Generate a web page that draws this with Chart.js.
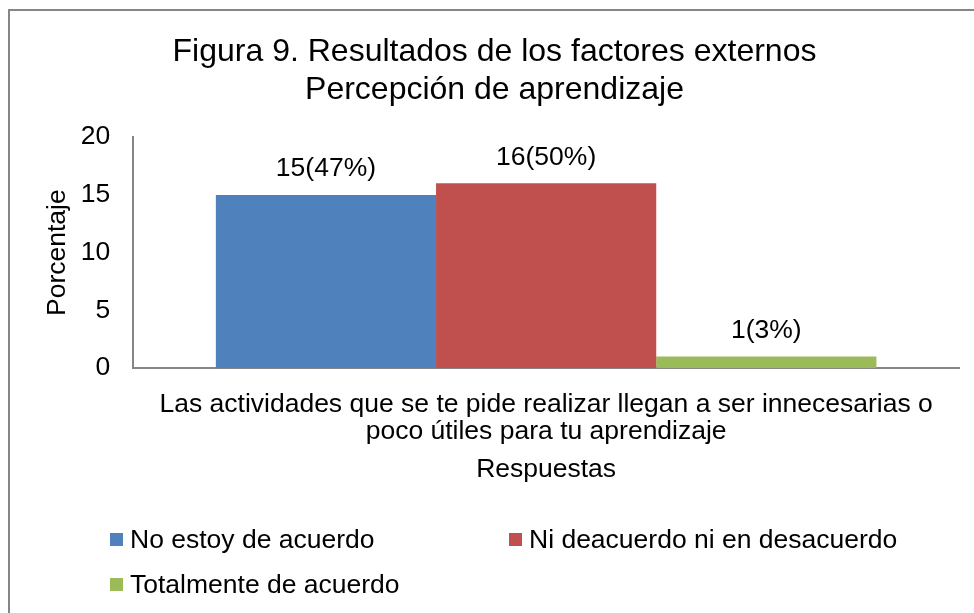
<!DOCTYPE html>
<html>
<head>
<meta charset="utf-8">
<script src="https://cdn.jsdelivr.net/npm/chart.js@4.4.0/dist/chart.umd.min.js"></script>
<style>
  html, body { margin: 0; padding: 0; background: #fff; }
  #wrap { width: 974px; height: 613px; position: relative; }
</style>
</head>
<body>
<div id="wrap"><canvas id="chart" width="974" height="613"></canvas></div>
<script>
const categories = [["Las actividades que se te pide realizar llegan a ser innecesarias o", "poco útiles para tu aprendizaje"]];
const seriesNames = ["No estoy de acuerdo", "Ni deacuerdo ni en desacuerdo", "Totalmente de acuerdo"];
const seriesValues = [[15], [16], [1]];
const seriesLabels = [["15(47%)"], ["16(50%)"], ["1(3%)"]];
const colors = ["#4F81BD", "#C0504D", "#9BBB59"];
const yTicks = [0, 5, 10, 15, 20];

const FONT = "'Liberation Sans', Arial, sans-serif";
const TXT = 26.5;

// borde del grafico + etiquetas + leyenda a mano
const extras = {
  id: "extras",
  beforeDraw(chart) {
    const c = chart.ctx;
    c.save();
    c.fillStyle = "#fff";
    c.fillRect(0, 0, chart.width, chart.height);
    c.strokeStyle = "#868686";
    c.lineWidth = 2;
    c.strokeRect(9, 10, chart.width + 10, chart.height + 10);
    c.restore();
  },
  afterDatasetsDraw(chart) {
    const c = chart.ctx;
    c.save();
    c.font = TXT + "px " + FONT;
    c.fillStyle = "#000";
    c.textAlign = "center";
    c.textBaseline = "middle";
    chart.data.datasets.forEach((ds, i) => {
      const meta = chart.getDatasetMeta(i);
      meta.data.forEach((bar, j) => {
        c.fillText(seriesLabels[i][j], bar.x, bar.y - 26);
      });
    });
    c.restore();
  },
  afterDraw(chart) {
    const c = chart.ctx;
    const pos = [[110, 540], [509, 540], [110, 585]];
    c.save();
    c.font = TXT + "px " + FONT;
    c.textBaseline = "middle";
    c.textAlign = "left";
    chart.data.datasets.forEach((ds, i) => {
      const [x, y] = pos[i];
      c.fillStyle = ds.backgroundColor;
      c.fillRect(x, y - 7, 13, 13);
      c.fillStyle = "#000";
      c.fillText(ds.label, x + 20, y + 1);
    });
    c.restore();
  }
};

const ctx = document.getElementById("chart").getContext("2d");
new Chart(ctx, {
  type: "bar",
  data: {
    labels: categories,
    datasets: seriesNames.map((name, i) => ({
      label: name,
      data: seriesValues[i],
      backgroundColor: colors[i],
      categoryPercentage: 0.8,
      barPercentage: 1.0
    }))
  },
  options: {
    responsive: false,
    animation: false,
    layout: { padding: { top: 21, right: 15, bottom: 127, left: 30 } },
    plugins: {
      legend: { display: false },
      tooltip: { enabled: false },
      title: {
        display: true,
        text: ["Figura 9. Resultados de los factores externos", "Percepción de aprendizaje"],
        color: "#000",
        font: { family: FONT, size: 32, weight: "normal", lineHeight: 1.19 },
        padding: { top: 12, bottom: 28 }
      }
    },
    scales: {
      x: {
        grid: { display: false, drawTicks: false },
        border: { color: "#868686", width: 2 },
        ticks: { color: "#000", font: { family: FONT, size: TXT, lineHeight: 1.02 }, padding: 23.5, maxRotation: 0 },
        title: { display: true, text: "Respuestas", color: "#000", font: { family: FONT, size: TXT, lineHeight: 1.2 }, padding: { top: -15, bottom: 0 } }
      },
      y: {
        min: 0,
        max: 20,
        afterBuildTicks: (axis) => { axis.ticks = yTicks.map(v => ({ value: v })); },
        grid: { display: false, drawTicks: false },
        border: { color: "#868686", width: 2 },
        ticks: { color: "#000", font: { family: FONT, size: TXT }, padding: 23 },
        title: { display: true, text: "Porcentaje", color: "#000", font: { family: FONT, size: TXT, lineHeight: 1.2 }, padding: { top: 12, bottom: -16 } }
      }
    }
  },
  plugins: [extras]
});
</script>
</body>
</html>
